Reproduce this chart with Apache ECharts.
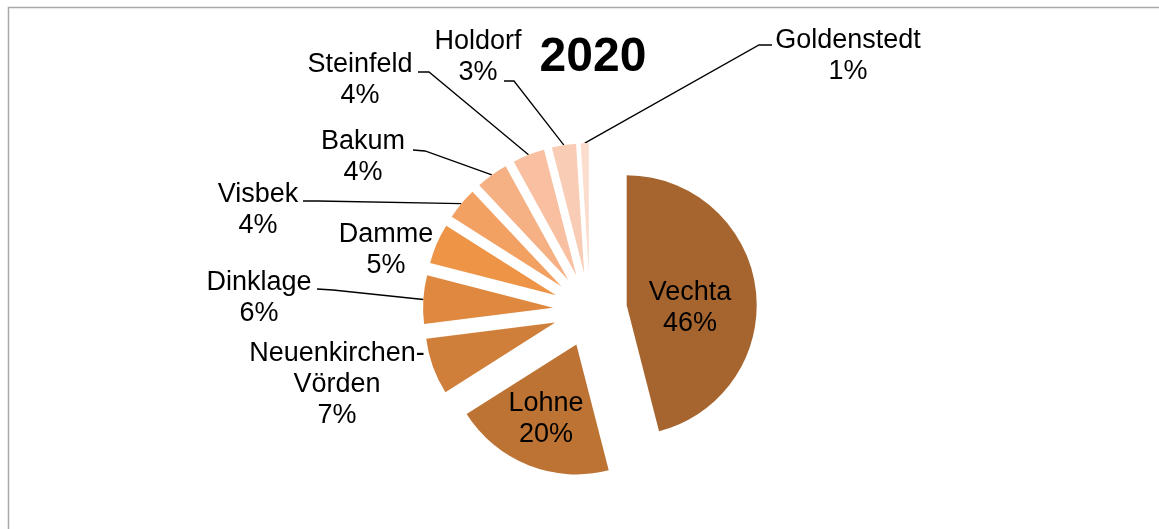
<!DOCTYPE html>
<html>
<head>
<meta charset="utf-8">
<script src="https://cdn.jsdelivr.net/npm/echarts@6/dist/echarts.min.js"></script>
<style>
  html, body { margin: 0; padding: 0; background: #fff; }
  #chart { width: 1159px; height: 529px; }
</style>
</head>
<body>
<div id="chart"></div>
<script>
// Anteile 2020 (in %), im Uhrzeigersinn ab 12 Uhr
const names = ["Vechta", "Lohne", "Neuenkirchen-Vörden", "Dinklage", "Damme",
  "Visbek", "Bakum", "Steinfeld", "Holdorf", "Goldenstedt"];
const shares = [46, 20, 7, 6, 5, 4, 4, 4, 3, 1];
const colors = ["#a6652f", "#bd7334", "#d07f3b", "#df8840", "#ee9446",
  "#f3a163", "#f5b184", "#f8c0a0", "#f9cdb5", "#fbdccd"];

// Layout: pie centre, radius, explosion distance
const CX = 590, CY = 310, R = 130, OFF = 37;

// label block centre [x, y], optional leader line end + elbow
const spots = [
  [690, 308],
  [546, 419],
  [337, 385],
  [259, 298, 317, 289, 333, 290],
  [386, 250],
  [258, 210, 303, 201, 318, 201],
  [363, 157, 413, 150, 425, 151],
  [360, 80, 418, 72, 429, 72],
  [478, 57, 504, 81, 514, 81],
  [848, 56, 772, 45, 759, 45]
];

const total = shares.reduce((a, b) => a + b, 0);

// mid angle of a slice (radians, clockwise from 12 o'clock)
function midAngle(i) {
  let before = 0;
  for (let k = 0; k < i; k++) before += shares[k];
  return (before + shares[i] / 2) / total * Math.PI * 2;
}

// point at distance d from the pie centre along the slice's mid angle
function along(i, d) {
  const a = midAngle(i);
  return [CX + d * Math.sin(a), CY - d * Math.cos(a)];
}

const chart = echarts.init(document.getElementById("chart"));

// one pie per slice, each pushed out along its mid angle (exploded pie)
const series = names.map(function (name, i) {
  const s = spots[i];
  return {
    type: "pie",
    center: along(i, OFF),
    radius: R,
    startAngle: 90,
    clockwise: true,
    silent: true,
    avoidLabelOverlap: false,
    emphasis: { disabled: true },
    itemStyle: { borderWidth: 0 },
    label: {
      show: false,
      color: "#000",
      fontFamily: "Liberation Sans",
      fontSize: 27,
      lineHeight: 31,
      formatter: function (p) {
        return p.name.replace("-", "-\n") + "\n" + Math.round(p.percent) + "%";
      }
    },
    labelLine: {
      show: false,
      lineStyle: { color: "#000", width: 1.3 }
    },
    labelLayout: function (p) {
      const out = { x: s[0], y: s[1], align: "center", verticalAlign: "middle" };
      if (s.length > 2) {
        out.labelLinePoints = [along(i, R + OFF), [s[4], s[5]], [s[2], s[3]]];
      }
      return out;
    },
    data: names.map(function (n, j) {
      const mine = j === i;
      return {
        name: n,
        value: shares[j],
        itemStyle: { color: mine ? colors[j] : "rgba(0,0,0,0)" },
        label: { show: mine, position: s.length > 2 ? "outside" : "inside" },
        labelLine: { show: mine && s.length > 2 }
      };
    })
  };
});

const option = {
  animation: false,
  title: {
    text: "2020",
    left: 588,
    top: 29,
    textAlign: "center",
    textStyle: {
      fontFamily: "Liberation Sans",
      fontSize: 48,
      fontWeight: "bold",
      color: "#000"
    }
  },
  graphic: [
    {
      type: "rect",
      shape: { x: 8.5, y: 7.5, width: 1300, height: 700 },
      style: { fill: null, stroke: "#a9a9a9", lineWidth: 1.5 },
      silent: true
    }
  ],
  series: series
};

chart.setOption(option);
</script>
</body>
</html>
